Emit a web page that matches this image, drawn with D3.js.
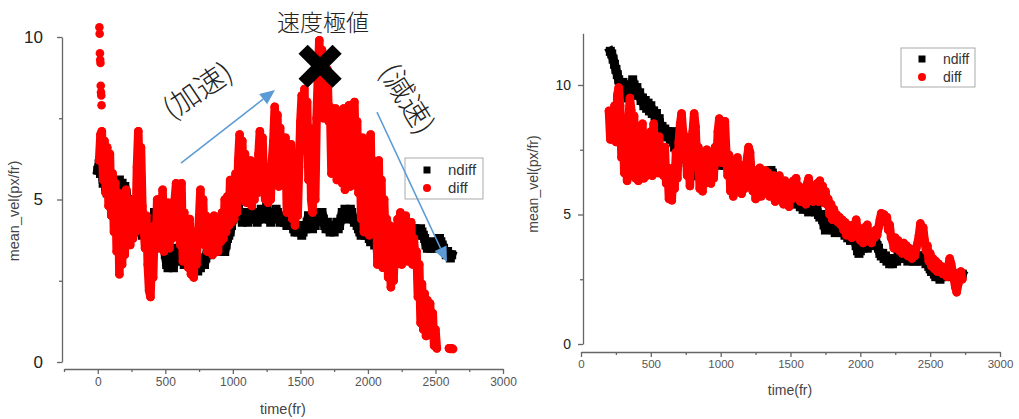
<!DOCTYPE html>
<html>
<head>
<meta charset="utf-8">
<script src="https://cdn.jsdelivr.net/npm/d3@7"></script>
<style>
  body { margin: 0; background: #fff; }
  svg { display: block; }
</style>
</head>
<body>
<div id="chart"></div>
<script>
// sampling step of the series (frames)
const STEP = 10

// ---- left panel: ndiff / diff, mean_vel vs time ----
const ndiffLeftStart = 0
const ndiffLeft = [
  5.9, 6.1, 5.8, 5.9, 5.5, 5.6, 5.3, 5.2, 5.4, 5.2,
  5.0, 5.2, 4.9, 5.1, 5.4, 5.5, 5.6, 5.4, 5.5, 5.3,
  5.4, 5.2, 5.0, 4.8, 4.6, 4.5, 4.3, 4.4, 4.2, 4.1,
  4.2, 4.0, 4.1, 3.9, 4.0, 4.2, 4.0, 3.8, 3.9, 4.1,
  4.2, 4.4, 4.6, 4.5, 4.4, 4.5, 4.3, 4.0, 3.8, 3.6,
  3.3, 3.0, 2.9, 3.1, 3.3, 3.0, 2.9, 3.2, 3.4, 3.5,
  3.3, 3.1, 3.4, 3.2, 3.0, 3.3, 3.4, 3.1, 3.0, 3.2,
  3.3, 3.4, 3.1, 2.9, 2.8, 3.0, 2.9, 3.1, 3.2, 3.0,
  3.2, 3.4, 3.5, 3.3, 3.5, 3.6, 3.4, 3.6, 3.5, 3.4,
  3.6, 3.5, 3.7, 3.5, 3.4, 3.6, 3.8, 3.9, 4.0, 4.2,
  4.4, 4.6, 4.5, 4.7, 4.8, 4.6, 4.5, 4.3, 4.4, 4.6,
  4.5, 4.3, 4.4, 4.6, 4.5, 4.4, 4.6, 4.5, 4.3, 4.4,
  4.6, 4.7, 4.5, 4.4, 4.6, 4.8, 4.6, 4.4, 4.3, 4.5,
  4.6, 4.5, 4.7, 4.6, 4.4, 4.3, 4.5, 4.4, 4.3, 4.4,
  4.2, 4.3, 4.5, 4.4, 4.3, 4.1, 4.0, 4.1, 4.0, 4.2,
  4.1, 3.9, 4.0, 4.2, 4.1, 4.3, 4.5, 4.4, 4.2, 4.1,
  4.3, 4.2, 4.4, 4.6, 4.5, 4.4, 4.6, 4.4, 4.2, 4.1,
  4.3, 4.1, 4.0, 4.2, 4.1, 4.0, 4.2, 4.3, 4.1, 4.2,
  4.4, 4.6, 4.5, 4.7, 4.6, 4.4, 4.5, 4.7, 4.6, 4.4,
  4.3, 4.4, 4.2, 4.1, 4.0, 3.9, 4.1, 4.0, 3.9, 4.0,
  3.9, 3.8, 3.7, 3.9, 3.8, 3.6, 3.7, 3.5, 3.6, 3.8,
  3.7, 3.9, 3.8, 3.7, 3.9, 3.8, 3.9, 4.0, 3.9, 3.7,
  3.6, 3.8, 3.9, 3.8, 4.0, 3.9, 4.0, 3.9, 4.0, 4.1,
  4.0, 3.9, 4.0, 4.1, 4.0, 4.1, 4.0, 3.9, 4.0, 4.1,
  4.0, 3.9, 3.8, 3.6, 3.5, 3.6, 3.5, 3.6, 3.7, 3.6,
  3.5, 3.6, 3.7, 3.8, 3.7, 3.6, 3.5, 3.4, 3.3, 3.4,
  3.3, 3.2, 3.3
]
// first few frames of diff, spread high above the band
const diffLeftHeadT = [12, 14, 16, 18, 20, 22, 24, 26, 28]
const diffLeftHead = [10.3, 10.1, 9.5, 9.3, 9.2, 8.5, 8.3, 8.2, 7.9]
const diffLeftStart = 10
const diffLeft = [
  6.2, 7.0, 7.1, 5.6, 6.8, 5.2, 6.6, 4.8, 6.4, 4.5,
  5.8, 4.0, 5.5, 3.4, 5.2, 2.7, 4.8, 3.0, 5.0, 3.3,
  5.3, 3.8, 5.0, 3.6, 4.8, 3.8, 5.0, 4.0, 6.0, 7.1,
  5.5, 6.6, 4.8, 4.2, 3.5, 4.5, 3.0, 2.2, 2.0, 3.2,
  2.6, 4.2, 3.6, 5.0, 3.5, 4.8, 3.8, 5.3, 3.4, 4.6,
  3.6, 4.9, 3.5, 4.4, 3.8, 4.2, 5.0, 5.5, 4.0, 5.2,
  3.6, 5.5, 3.1, 4.6, 3.3, 4.2, 2.9, 4.4, 2.7, 3.8,
  2.6, 4.0, 3.0, 3.8, 4.4, 5.3, 3.9, 5.0, 3.6, 4.5,
  3.4, 4.4, 3.5, 4.3, 3.3, 4.5, 3.6, 4.2, 3.4, 4.4,
  3.7, 4.6, 3.8, 5.0, 4.0, 5.1, 4.2, 5.6, 4.3, 5.0,
  4.4, 5.8, 4.6, 6.2, 7.0, 5.5, 6.8, 5.0, 6.4, 4.9,
  6.0, 5.0, 6.2, 4.8, 5.8, 5.0, 6.1, 5.2, 6.4, 7.1,
  5.8, 6.9, 5.4, 5.0, 6.0, 4.9, 5.8, 5.0, 6.2, 6.8,
  7.85, 6.0, 7.6, 5.4, 7.2, 5.6, 6.8, 5.5, 6.9, 4.6,
  6.5, 4.8, 6.7, 4.4, 6.0, 4.2, 5.6, 4.5, 6.0, 7.4,
  8.2, 7.0, 8.4, 6.5, 8.0, 5.6, 7.2, 5.0, 4.6, 6.2,
  5.0, 7.5, 8.8, 9.9, 8.0, 9.6, 7.5, 9.4, 7.8, 9.0,
  7.4, 7.85, 5.8, 7.5, 6.0, 7.8, 5.6, 7.2, 5.9, 7.6,
  5.5, 7.8, 5.3, 7.4, 5.6, 7.9, 5.4, 7.2, 5.8, 8.0,
  6.0, 7.4, 5.2, 6.6, 4.4, 6.9, 4.0, 6.4, 4.2, 6.8,
  3.9, 7.0, 4.4, 6.2, 4.4, 5.8, 3.0, 6.2, 3.4, 5.6,
  2.9, 5.0, 3.6, 4.4, 2.6, 4.2, 2.3, 3.8, 2.5, 4.0,
  3.0, 4.4, 3.2, 4.6, 3.0, 4.2, 3.3, 4.5, 3.1, 4.0,
  3.4, 4.3, 3.0, 3.8, 3.2, 3.4, 2.0, 3.0, 1.2, 2.4,
  1.0, 2.1, 0.8, 1.9, 1.2, 1.8, 0.9, 1.5, 0.5, 1.0,
  0.42
]
const diffLeftTailStart = 2600
const diffLeftTail = [0.42, 0.4, 0.42, 0.4]

// ---- right panel ----
const ndiffRightStart = 210
const ndiffRight = [
  11.3, 11.2, 11.0, 10.8, 10.6, 10.4, 10.2, 10.0, 9.9, 10.1,
  10.0, 9.8, 9.6, 9.5, 9.8, 10.0, 10.2, 10.0, 9.8, 9.9,
  9.6, 9.7, 9.4, 9.5, 9.2, 9.4, 9.1, 9.3, 9.0, 9.2,
  8.9, 9.0, 8.8, 8.9, 8.6, 8.7, 8.3, 8.4, 8.2, 8.3,
  8.0, 8.2, 8.0, 7.9, 8.2, 7.8, 7.6, 7.7, 7.5, 7.6,
  7.4, 7.3, 7.2, 7.3, 7.2, 7.0, 6.9, 6.6, 6.5, 6.8,
  7.0, 6.7, 6.5, 6.8, 7.0, 7.2, 7.1, 7.0, 7.1, 7.2,
  7.1, 7.0, 7.2, 7.1, 6.9, 7.0, 7.1, 7.0, 6.9, 7.1,
  7.2, 7.0, 6.9, 7.1, 7.0, 6.8, 6.9, 7.0, 6.8, 6.7,
  6.9, 6.8, 6.7, 6.6, 6.7, 6.5, 6.6, 6.4, 6.5, 6.6,
  6.4, 6.3, 6.4, 6.5, 6.3, 6.2, 6.4, 6.3, 6.2, 6.3,
  6.4, 6.5, 6.4, 6.3, 6.5, 6.7, 6.6, 6.4, 6.2, 6.1,
  6.0, 5.9, 6.0, 5.8, 5.9, 5.7, 5.8, 5.7, 5.6, 5.7,
  5.8, 5.6, 5.5, 5.6, 5.4, 5.5, 5.3, 5.4, 5.2, 5.3,
  5.4, 5.2, 5.1, 5.3, 5.2, 5.4, 5.2, 5.1, 5.2, 5.0,
  4.9, 5.0, 4.8, 4.6, 4.4, 4.5, 4.7, 4.9, 4.8, 4.6,
  4.4, 4.3, 4.4, 4.6, 4.5, 4.6, 4.4, 4.3, 4.2, 4.3,
  4.1, 4.2, 4.0, 4.1, 4.2, 4.0, 3.8, 3.6, 3.5, 3.6,
  3.8, 3.7, 3.9, 3.8, 3.7, 3.8, 3.9, 4.0, 3.8, 3.9,
  4.0, 3.8, 3.7, 3.5, 3.4, 3.5, 3.3, 3.4, 3.2, 3.3,
  3.1, 3.2, 3.1, 3.2, 3.3, 3.2, 3.4, 3.5, 3.4, 3.5,
  3.3, 3.4, 3.3, 3.2, 3.3, 3.4, 3.3, 3.2, 3.3, 3.2,
  3.3, 3.4, 3.3, 3.2, 3.4, 3.3, 3.1, 3.2, 3.0, 2.9,
  2.8, 2.9, 2.7, 2.6, 2.7, 2.6, 2.5, 2.6, 2.7, 2.6,
  2.7, 2.8, 2.7, 2.8, 2.7, 2.6, 2.7, 2.6, 2.5, 2.6,
  2.7, 2.6, 2.7
]
const diffRightStart = 200
const diffRight = [
  9.0, 7.9, 8.8, 8.0, 9.2, 7.8, 9.6, 9.9, 9.2, 7.2,
  8.4, 6.6, 7.8, 6.3, 8.6, 9.5, 9.0, 7.4, 8.8, 6.4,
  7.6, 6.3, 8.0, 6.6, 8.5, 6.4, 7.7, 6.5, 7.9, 6.6,
  8.2, 6.5, 8.5, 7.0, 7.8, 6.6, 8.0, 6.8, 7.4, 6.5,
  7.6, 6.2, 6.8, 5.6, 6.4, 5.55, 6.8, 6.0, 7.4, 6.4,
  7.8, 8.5, 8.9, 8.2, 7.2, 8.0, 6.5, 7.4, 6.1, 7.6,
  8.2, 8.9, 8.4, 7.0, 7.6, 6.0, 7.2, 5.9, 7.0, 6.2,
  7.5, 6.3, 7.4, 6.2, 7.3, 6.4, 7.6, 7.0, 8.2, 8.7,
  7.8, 7.0, 8.1, 8.6, 7.4, 6.5, 7.3, 5.9, 7.0, 5.7,
  6.8, 6.0, 7.2, 6.2, 6.9, 5.8, 6.6, 6.0, 6.8, 7.2,
  7.6, 7.4, 6.6, 5.9, 6.7, 5.6, 6.5, 5.8, 6.8, 5.7,
  6.4, 5.9, 6.7, 6.0, 6.6, 5.7, 6.4, 5.9, 6.5, 5.5,
  6.2, 5.8, 6.5, 5.6, 6.0, 5.4, 6.3, 5.6, 6.2, 5.3,
  6.0, 5.6, 6.3, 5.8, 6.4, 5.7, 6.1, 5.5, 6.0, 5.6,
  5.9, 5.4, 6.2, 6.4, 5.8, 6.0, 5.5, 5.8, 5.6, 6.2,
  5.5, 6.3, 5.6, 6.1, 5.45, 5.9, 5.4, 5.6, 5.0, 5.4,
  4.8, 5.2, 4.9, 5.0, 4.7, 4.9, 4.6, 4.8, 4.4, 4.7,
  4.2, 4.6, 4.3, 4.5, 4.1, 4.6, 4.2, 4.8, 4.4, 4.2,
  4.0, 4.3, 3.9, 4.5, 4.2, 4.6, 4.0, 4.3, 3.9, 4.2,
  4.1, 4.4, 4.2, 4.5, 4.8, 5.05, 4.9, 5.0, 4.7, 4.9,
  4.4, 4.6, 4.1, 4.0, 3.7, 4.1, 3.8, 4.0, 3.6, 3.9,
  3.5, 3.9, 3.6, 3.8, 3.4, 3.7, 3.5, 3.3, 3.6, 3.4,
  3.7, 3.9, 4.2, 4.65, 4.4, 4.5, 4.0, 3.6, 3.8, 3.2,
  3.5, 3.0, 3.3, 2.9, 3.2, 2.8, 3.1, 2.8, 3.0, 2.7,
  2.9, 2.8, 2.6, 3.0, 3.3, 3.1, 2.8, 2.5, 2.2, 2.0,
  2.3, 2.6, 2.8, 2.5
]

// axes ticks (every 250 frames, labels every 500; y every 2.5, labels every 5)
const xTicksLeft = d3.range(-250, 3001, 250)
const xTicksRight = d3.range(0, 3001, 250)
const yTicks = [0, 2.5, 5, 7.5, 10]
const seriesNames = ["ndiff", "diff"]

// annotations on the left panel, in data coordinates
const extremeLabel = "速度極値"
const extremePoint = { t: 1646, v: 9.1 }
const extremeLabelPos = { t: 1668, v: 10.43 }
const accelLabel = "(加速)"
const accelPos = { t: 740, v: 8.35 }
const decelLabel = "(減速)"
const decelPos = { t: 2290, v: 8.1 }
const arrowUp = [{ t: 616, v: 6.12 }, { t: 1312, v: 8.37 }]
const arrowDown = [{ t: 2067, v: 7.69 }, { t: 2585, v: 3.08 }]

const W = 1019, H = 419
const RED = "#ff0000", BLACK = "#000000", AXIS = "#666", BLUE = "#5b9bd5"
const FONT = "'Liberation Sans', Arial, sans-serif"
const CJK = "'Noto Sans CJK JP', 'Noto Sans CJK TC', sans-serif"
const SQ = 9  // ndiff square size

let svg = d3.select("#chart").append("svg")
  .attr("width", W).attr("height", H)
  .attr("viewBox", [0, 0, W, H])

function toPoints(start, values) {
  return values.map((v, i) => ({ t: start + i * STEP, v: v }))
}

function drawPanel(p) {
  let x = d3.scaleLinear().domain(p.xDomain).range(p.xRange)
  let y = d3.scaleLinear().domain(p.yDomain).range(p.yRange)
  let g = svg.append("g")

  // x axis
  let xAxis = g.append("g")
    .attr("transform", "translate(0," + p.xAxisY + ")")
    .call(d3.axisBottom(x)
      .tickValues(p.xTicks)
      .tickSize(5).tickSizeOuter(0).tickPadding(3)
      .tickFormat(d => (d % 500 === 0 && d >= 0) ? d : ""))
  xAxis.selectAll(".tick").filter(d => d % 500 !== 0).select("line").attr("y2", 3)
  xAxis.selectAll("text").attr("font-size", p.xTickFont).attr("fill", "#555").attr("font-family", FONT)

  // y axis
  let yAxis = g.append("g")
    .attr("transform", "translate(" + p.yAxisX + ",0)")
    .call(d3.axisLeft(y)
      .tickValues(yTicks)
      .tickSize(5).tickSizeOuter(0).tickPadding(p.yTickPad)
      .tickFormat(d => d % 5 === 0 ? d : ""))
  yAxis.selectAll(".tick").filter(d => d % 5 !== 0).select("line").attr("x2", -3)
  yAxis.selectAll("text").attr("font-size", p.yTickFont).attr("fill", "#222").attr("font-family", FONT)

  g.selectAll(".domain, .tick line").attr("stroke", AXIS).attr("stroke-width", 1.3)

  // axis titles
  g.append("text")
    .attr("x", p.xTitle[0]).attr("y", p.xTitle[1])
    .attr("text-anchor", "middle")
    .attr("font-family", FONT).attr("font-size", p.titleFont).attr("fill", "#444")
    .text("time(fr)")
  g.append("text")
    .attr("transform", "translate(" + p.yTitle[0] + "," + p.yTitle[1] + ") rotate(-90)")
    .attr("text-anchor", "middle")
    .attr("font-family", FONT).attr("font-size", p.titleFont).attr("fill", "#444")
    .text("mean_vel(px/fr)")

  let line = d3.line().x(d => x(d.t)).y(d => y(d.v))
  let marks = g.append("g")

  // ndiff: black squares (the dense frames merge into a thick band)
  p.ndiff.forEach(pts => {
    marks.append("path").datum(pts)
      .attr("d", line)
      .attr("fill", "none").attr("stroke", BLACK)
      .attr("stroke-width", SQ).attr("stroke-linejoin", "bevel").attr("stroke-linecap", "square")
    marks.selectAll(null).data(pts).enter().append("rect")
      .attr("x", d => x(d.t) - SQ / 2).attr("y", d => y(d.v) - SQ / 2)
      .attr("width", SQ).attr("height", SQ)
      .attr("fill", BLACK)
  })

  // diff: red circles on top
  p.diff.forEach(s => {
    if (s.joined) {
      marks.append("path").datum(s.pts)
        .attr("d", line)
        .attr("fill", "none").attr("stroke", RED)
        .attr("stroke-width", 8.5).attr("stroke-linejoin", "round").attr("stroke-linecap", "round")
    }
    marks.selectAll(null).data(s.pts).enter().append("circle")
      .attr("cx", d => x(d.t)).attr("cy", d => y(d.v))
      .attr("r", 4.3)
      .attr("fill", RED)
  })

  // legend
  let lg = g.append("g").attr("transform", "translate(" + p.legend.x + "," + p.legend.y + ")")
  lg.append("rect")
    .attr("width", p.legend.w).attr("height", p.legend.h)
    .attr("fill", "#fff").attr("stroke", "#aaa").attr("stroke-width", 1)
  seriesNames.forEach((name, i) => {
    let cy = p.legend.row0 + i * p.legend.rowGap
    if (name === "ndiff") {
      lg.append("rect")
        .attr("x", p.legend.mx - 3.5).attr("y", cy - 3.5)
        .attr("width", 7).attr("height", 7).attr("fill", BLACK)
    } else {
      lg.append("circle")
        .attr("cx", p.legend.mx).attr("cy", cy).attr("r", 4).attr("fill", RED)
    }
    lg.append("text")
      .attr("x", p.legend.tx).attr("y", cy)
      .attr("dy", "0.35em")
      .attr("font-family", FONT).attr("font-size", p.legend.font).attr("fill", "#333")
      .text(name)
  })

  return { x: x, y: y, g: g }
}

// left panel
let left = drawPanel({
  xDomain: [-250, 3000], xRange: [64, 503],
  yDomain: [0, 10], yRange: [362, 37],
  xAxisY: 369, yAxisX: 62,
  xTicks: xTicksLeft,
  xTickFont: 12, yTickFont: 17, yTickPad: 14, titleFont: 14.5,
  xTitle: [283, 414], yTitle: [19, 211],
  ndiff: [toPoints(ndiffLeftStart, ndiffLeft)],
  diff: [
    { pts: diffLeftHeadT.map((t, i) => ({ t: t, v: diffLeftHead[i] })), joined: false },
    { pts: toPoints(diffLeftStart, diffLeft), joined: true },
    { pts: toPoints(diffLeftTailStart, diffLeftTail), joined: true }
  ],
  legend: { x: 405, y: 158, w: 78, h: 41, mx: 22, tx: 43, row0: 12, rowGap: 18, font: 15 }
})

// right panel
drawPanel({
  xDomain: [0, 3000], xRange: [581, 1000],
  yDomain: [0, 12], yRange: [344, 33.2],
  xAxisY: 352, yAxisX: 583,
  xTicks: xTicksRight,
  xTickFont: 11.5, yTickFont: 14, yTickPad: 7, titleFont: 14,
  xTitle: [790, 395], yTitle: [538, 184],
  ndiff: [toPoints(ndiffRightStart, ndiffRight)],
  diff: [{ pts: toPoints(diffRightStart, diffRight), joined: true }],
  legend: { x: 901, y: 48, w: 74, h: 39, mx: 21, tx: 42, row0: 11, rowGap: 18, font: 14 }
})

// ---- annotations on the left panel ----
let ax = left.x, ay = left.y
let ann = svg.append("g")

ann.append("text")
  .attr("x", ax(extremeLabelPos.t)).attr("y", ay(extremeLabelPos.v))
  .attr("dy", "0.35em").attr("text-anchor", "middle")
  .attr("font-family", CJK).attr("font-size", 23).attr("font-weight", 300).attr("fill", "#222")
  .text(extremeLabel)

// big cross marking the extreme
let cx = ax(extremePoint.t), cy = ay(extremePoint.v), arm = 17
ann.append("path")
  .attr("d", "M" + (cx - arm) + "," + (cy - arm) + "L" + (cx + arm) + "," + (cy + arm) +
             "M" + (cx + arm) + "," + (cy - arm) + "L" + (cx - arm) + "," + (cy + arm))
  .attr("stroke", "#000").attr("stroke-width", 13).attr("stroke-linecap", "butt")

ann.append("text")
  .attr("transform", "translate(" + ax(accelPos.t) + "," + ay(accelPos.v) + ") rotate(-34)")
  .attr("dy", "0.35em").attr("text-anchor", "middle")
  .attr("font-family", CJK).attr("font-size", 29).attr("font-weight", 300).attr("fill", "#222")
  .text(accelLabel)

ann.append("text")
  .attr("transform", "translate(" + ax(decelPos.t) + "," + ay(decelPos.v) + ") rotate(58)")
  .attr("dy", "0.35em").attr("text-anchor", "middle")
  .attr("font-family", CJK).attr("font-size", 29).attr("font-weight", 300).attr("fill", "#222")
  .text(decelLabel)

function drawArrow(a) {
  let x1 = ax(a[0].t), y1 = ay(a[0].v), x2 = ax(a[1].t), y2 = ay(a[1].v)
  let ang = Math.atan2(y2 - y1, x2 - x1)
  let len = 15, half = 6.5
  let bx = x2 - len * Math.cos(ang), by = y2 - len * Math.sin(ang)
  ann.append("line")
    .attr("x1", x1).attr("y1", y1).attr("x2", bx).attr("y2", by)
    .attr("stroke", BLUE).attr("stroke-width", 1.5)
  let pts = [
    [x2, y2],
    [bx + half * Math.sin(ang), by - half * Math.cos(ang)],
    [bx - half * Math.sin(ang), by + half * Math.cos(ang)]
  ]
  ann.append("path").attr("d", "M" + pts.join("L") + "Z").attr("fill", BLUE)
}
drawArrow(arrowUp)
drawArrow(arrowDown)
</script>
</body>
</html>
